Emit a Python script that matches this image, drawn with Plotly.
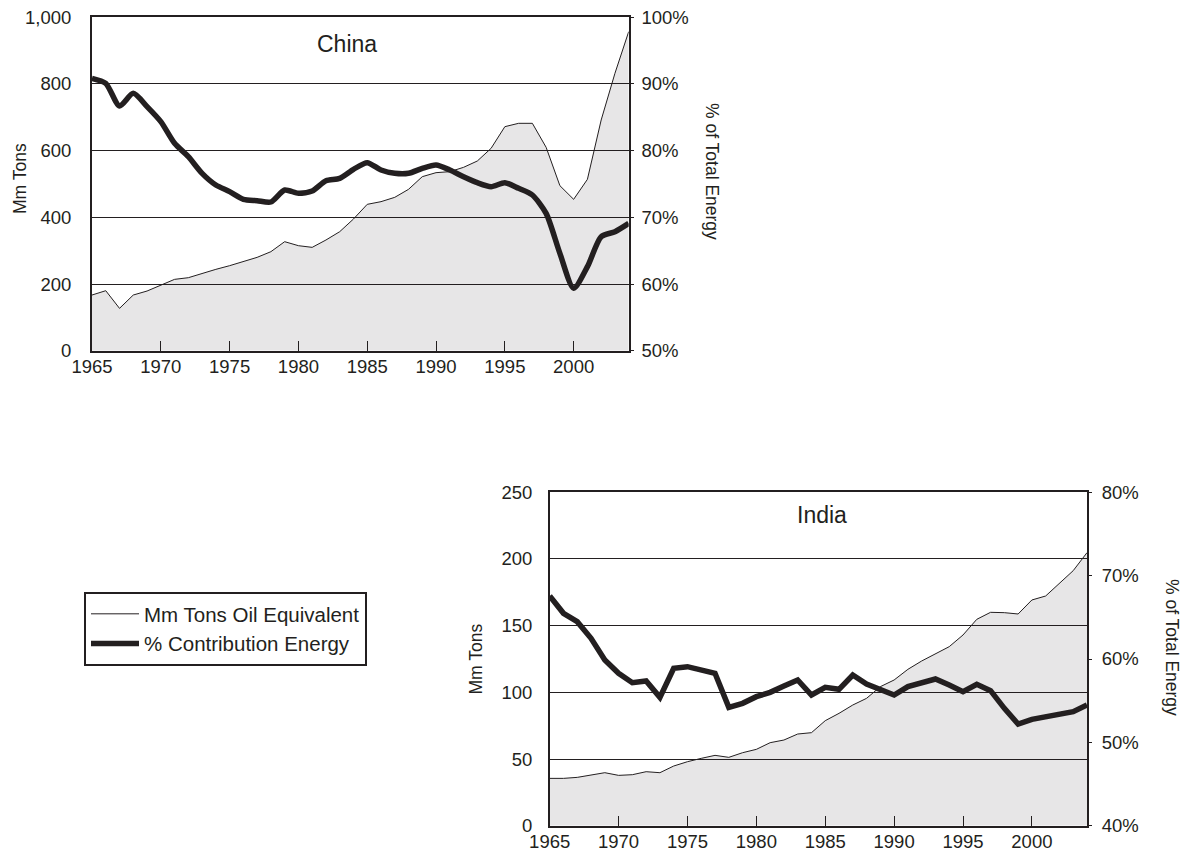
import plotly.graph_objects as go

# ---- data -------------------------------------------------------------
years = list(range(1965, 2005))

china_tons = [167, 180, 127, 167, 179, 197, 214, 219, 232, 244,
              255, 267, 280, 297, 327, 315, 310, 332, 357, 395,
              439, 447, 460, 484, 522, 534, 537, 550, 569, 607,
              672, 682, 682, 610, 495, 454, 514, 692, 832, 957]
china_pct = [90.85, 90.1, 86.7, 88.6, 86.6, 84.35, 81.1, 79.1, 76.6, 74.85,
             73.85, 72.7, 72.5, 72.3, 74.1, 73.6, 73.95, 75.5, 75.85, 77.2,
             78.2, 77.1, 76.6, 76.6, 77.35, 77.85, 77.1, 76.1, 75.2, 74.6,
             75.2, 74.35, 73.35, 70.6, 64.6, 59.35, 62.6, 67.1, 67.85, 69.1]

india_tons = [35.5, 35.5, 36.25, 38, 39.75, 37.75, 38.25, 40.5, 39.75, 44.75,
              48, 50.5, 52.75, 51.25, 54.75, 57.25, 62.25, 64.25, 68.75, 69.75,
              78.75, 84.25, 90.5, 95.5, 104.25, 109.25, 117.25, 123.5, 128.75, 134.25,
              143, 154.75, 160, 159.75, 158.75, 169.25, 172.25, 181.75, 191.25, 204.75]
india_pct = [67.56, 65.48, 64.48, 62.48, 59.88, 58.28, 57.16, 57.36, 55.4, 58.88,
             59.08, 58.76, 58.28, 54.2, 54.68, 55.48, 56.0, 56.76, 57.48, 55.68,
             56.6, 56.36, 58.08, 57.0, 56.28, 55.68, 56.68, 57.08, 57.6, 56.88,
             56.08, 56.96, 56.2, 54.08, 52.2, 52.76, 53.08, 53.48, 53.68, 54.48]

x_ticks = [1965, 1970, 1975, 1980, 1985, 1990, 1995, 2000]
china_left_ticks = [0, 200, 400, 600, 800, 1000]
china_right_ticks = [50, 60, 70, 80, 90, 100]
india_left_ticks = [0, 50, 100, 150, 200, 250]
india_right_ticks = [40, 50, 60, 70, 80]

# ---- style ------------------------------------------------------------
INK = "#231f20"
FILL = "rgba(35,31,32,0.11)"
FONT = "Liberation Sans, Arial, sans-serif"
TICK_SIZE = 18.5
W, H = 1187, 860

fig = go.Figure()

def add_panel(xa, ya, ya2, tons, pct, smooth, legend):
    # shaded area under tonnage
    fig.add_trace(go.Scatter(x=years, y=tons, xaxis=xa, yaxis=ya, mode="lines",
                             line=dict(width=0), fill="tozeroy", fillcolor=FILL,
                             showlegend=False, hoverinfo="skip"))
    # tonnage outline
    fig.add_trace(go.Scatter(x=years, y=tons, xaxis=xa, yaxis=ya, mode="lines",
                             line=dict(color=INK, width=1),
                             name="Mm Tons Oil Equivalent", showlegend=legend))
    # share of total energy
    line = dict(color=INK, width=5.5)
    if smooth:
        line.update(shape="spline", smoothing=0.7)
    fig.add_trace(go.Scatter(x=years, y=pct, xaxis=xa, yaxis=ya2, mode="lines",
                             line=line, name="% Contribution Energy",
                             showlegend=legend))

add_panel("x", "y", "y2", china_tons, china_pct, True, True)
add_panel("x2", "y3", "y4", india_tons, india_pct, False, False)

tickfont = dict(family=FONT, size=TICK_SIZE, color=INK)

def xaxis(domain, anchor, lw):
    return dict(domain=domain, anchor=anchor, range=[1965, 2004],
                tickvals=x_ticks, ticks="inside", ticklen=10, tickwidth=1.3,
                tickcolor=INK, showline=True, linecolor=INK, linewidth=lw,
                mirror=True, showgrid=False, zeroline=False, tickfont=tickfont,
                ticklabelstandoff=-2)

def yleft(domain, anchor, rng, ticks, lw, standoff):
    return dict(domain=domain, anchor=anchor, range=rng, tickvals=ticks,
                tickformat=",d", ticks="", showline=True, linecolor=INK,
                linewidth=lw, mirror=True, showgrid=True, gridcolor=INK,
                gridwidth=1, zeroline=False, tickfont=tickfont,
                ticklabelstandoff=standoff)

def yright(overlay, anchor, rng, ticks, standoff):
    return dict(overlaying=overlay, anchor=anchor, side="right", range=rng,
                tickmode="array", tickvals=ticks,
                ticktext=[f"{t}%" for t in ticks],
                ticks="outside", ticklen=4,
                tickcolor=INK, showline=False, showgrid=False, zeroline=False,
                tickfont=tickfont, ticklabelstandoff=standoff)

china_x = [92 / W, 628.7 / W]
china_y = [(H - 350.7) / H, (H - 17.3) / H]
india_x = [549.7 / W, 1087 / W]
india_y = [(H - 825.7) / H, (H - 492.3) / H]

fig.update_layout(
    width=W, height=H, autosize=False,
    margin=dict(l=0, r=0, t=0, b=0, autoexpand=False),
    paper_bgcolor="white", plot_bgcolor="rgba(0,0,0,0)",
    font=dict(family=FONT, color=INK),
    xaxis=xaxis(china_x, "y", 2),
    yaxis=yleft(china_y, "x", [0, 1000], china_left_ticks, 2, 15),
    yaxis2=yright("y", "x", [50, 100], china_right_ticks, 4),
    xaxis2=xaxis(india_x, "y3", 1.5),
    yaxis3=yleft(india_y, "x2", [0, 250], india_left_ticks, 1.5, 12),
    yaxis4=yright("y3", "x2", [40, 80], india_right_ticks, 6),
    showlegend=True,
    legend=dict(x=84 / W, y=(H - 592) / H, xanchor="left", yanchor="top",
                bgcolor="white", bordercolor=INK, borderwidth=2,
                font=dict(family=FONT, size=20.5, color=INK),
                itemwidth=48, tracegroupgap=0),
)

def note(text, x, y, size, angle=0):
    fig.add_annotation(text=text, x=x / W, y=(H - y) / H, xref="paper",
                       yref="paper", showarrow=False, textangle=angle,
                       font=dict(family=FONT, size=size, color=INK),
                       xanchor="center", yanchor="middle")

note("China", 347, 43.5, 23)
note("India", 822, 515, 23)
note("Mm Tons", 20, 179, 17.5, -90)
note("Mm Tons", 475, 659.5, 17.5, -90)
note("% of Total Energy", 712, 171, 17.5, 90)
note("% of Total Energy", 1172, 647, 17.5, 90)

fig.write_html("out.html")
